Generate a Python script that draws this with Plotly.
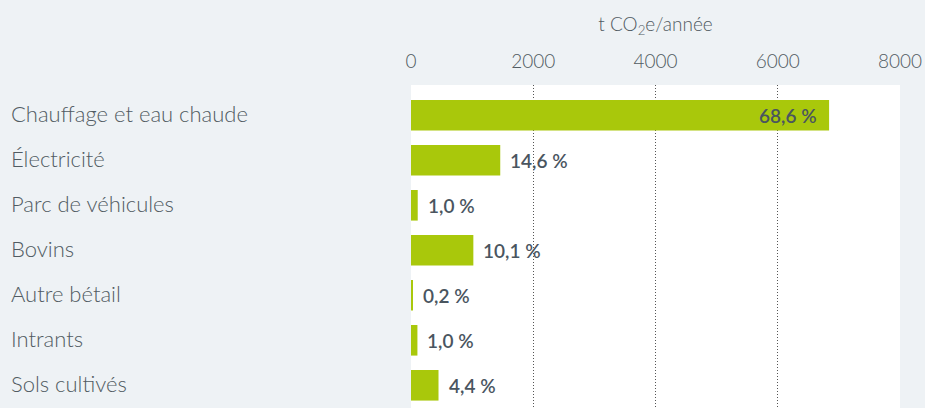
import plotly.graph_objects as go

categories = ["Chauffage et eau chaude", "Électricité", "Parc de véhicules", "Bovins",
              "Autre bétail", "Intrants", "Sols cultivés"]
values = [6840, 1460, 110, 1020, 25, 105, 450]
pct_labels = ["68,6 %", "14,6 %", "1,0 %", "10,1 %", "0,2 %", "1,0 %", "4,4 %"]
tick_vals = [0, 2000, 4000, 6000, 8000]
tick_text = ["0", "2000", "4000", "6000", "8000"]

BG = "#EEF2F5"
BAR = "#A9C80B"
TXT = "#515B62"
LBL = "#4A555F"
FONT = "Lato"

fig = go.Figure(go.Bar(
    x=values, y=categories, orientation="h",
    marker=dict(color=BAR, line=dict(width=0)),
    hoverinfo="skip",
))

L, R, T = 411, 25, 85
W, H = 925, 408
plot_w = W - L - R

annotations = []
for i, (c, v, p) in enumerate(zip(categories, values, pct_labels)):
    annotations.append(dict(
        x=(9 - L) / plot_w, xref="paper", y=c, yref="y", yshift=2,
        text=c, showarrow=False, xanchor="left", yanchor="middle",
        font=dict(family=FONT, size=22, color=TXT, weight=300),
    ))
    inside = v > 4000
    annotations.append(dict(
        x=v, xref="x", y=c, yref="y", text=p, showarrow=False,
        xanchor="right" if inside else "left", yanchor="middle",
        xshift=-10 if inside else 8,
        font=dict(family=FONT, size=19, color=LBL, weight=600),
    ))

fig.update_layout(
    width=W, height=H,
    margin=dict(l=L, r=R, t=T, b=0, pad=0),
    paper_bgcolor=BG, plot_bgcolor="white",
    bargap=0.32,
    showlegend=False,
    annotations=annotations,
    xaxis=dict(
        side="top", range=[0, 8000], tickvals=tick_vals, ticktext=tick_text,
        showgrid=True, gridcolor="#555555", griddash="1px,2px", gridwidth=1,
        zeroline=False, showline=False, ticks="",
        tickfont=dict(family=FONT, size=19, color=TXT, weight=300),
        ticklabelstandoff=12,
        title=dict(text="t CO<sub>2</sub>e/année", font=dict(family=FONT, size=19, color=TXT, weight=300), standoff=12),
        fixedrange=True,
    ),
    yaxis=dict(
        range=[6.505, -0.673], showticklabels=False, showgrid=False,
        zeroline=False, showline=False, ticks="", fixedrange=True,
    ),
)

fig.write_html("out.html", config={"displayModeBar": False},
               post_script="document.body.style.margin='0';document.body.style.overflow='hidden';")
